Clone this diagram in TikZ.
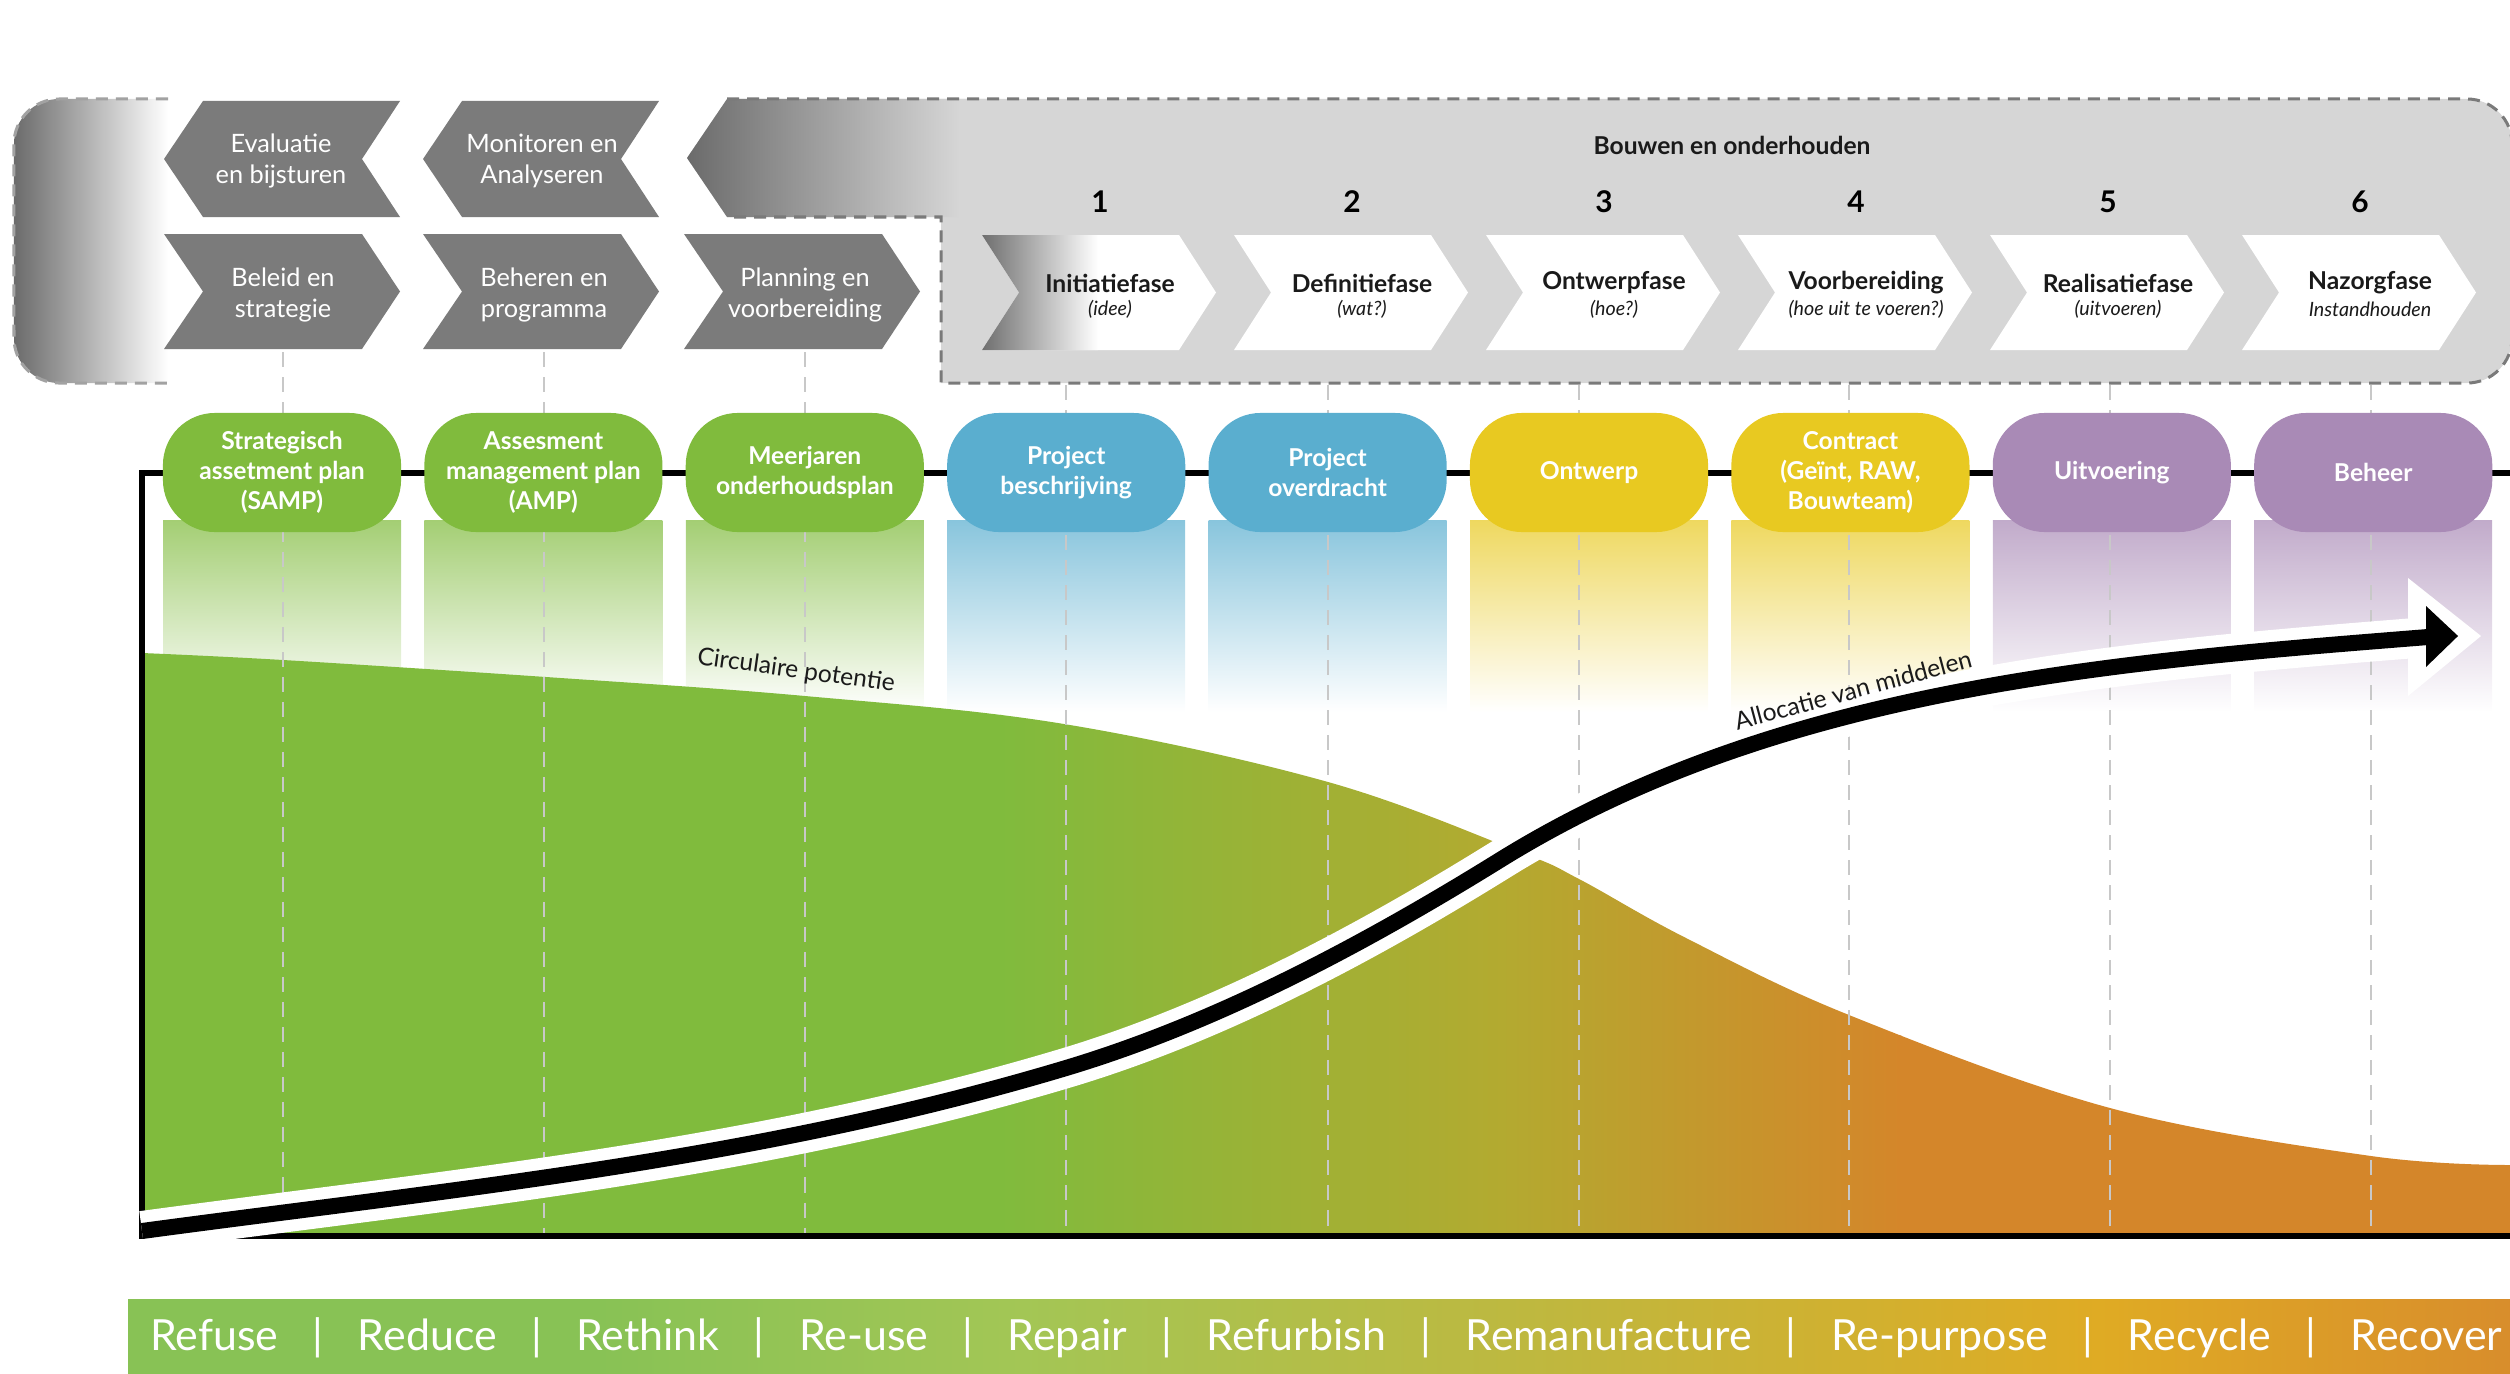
\documentclass[tikz,border=0pt]{standalone}
\usepackage{fontspec}
\setmainfont{Lato}
\usetikzlibrary{calc}
\definecolor{chevgrey}{HTML}{7B7B7B}
\definecolor{blockgrey}{HTML}{D6D6D6}
\definecolor{borderg}{HTML}{7A7A7A}
\definecolor{darkg}{HTML}{6B6B6B}
\definecolor{pgreen}{HTML}{80BB3D}
\definecolor{pblue}{HTML}{5AAECF}
\definecolor{pyellow}{HTML}{E8C921}
\definecolor{ppurple}{HTML}{A98AB6}
\definecolor{aolive}{HTML}{B3AA30}
\definecolor{aorange}{HTML}{D4862A}
\definecolor{dashg}{HTML}{C8C8C8}
\definecolor{txtdark}{HTML}{1A1A1A}
\definecolor{bgreen}{HTML}{88C255}
\definecolor{bgreen2}{HTML}{A3C655}
\definecolor{bolive}{HTML}{C2B63C}
\definecolor{bgold}{HTML}{DFAB24}
\definecolor{borange}{HTML}{D88D2C}
\newcommand\bandsep{\hspace{0.8em}|\hspace{0.8em}}
\begin{document}
\begin{tikzpicture}[x=0.01cm,y=-0.01cm,
  lab/.style={font=\fontsize{7.2}{8.6}\selectfont, text=white, align=center, inner sep=0},
  phase/.style={font=\bfseries\fontsize{7}{8.4}\selectfont, text=txtdark, inner sep=0},
  phsub/.style={font=\itshape\fontsize{5.6}{7}\selectfont, text=txtdark, inner sep=0},
  num/.style={font=\bfseries\fontsize{8.5}{10}\selectfont, text=black, inner sep=0},
  pill/.style={rounded corners=0.52cm, minimum width=2.38cm, minimum height=1.19cm,
     inner sep=0, font=\bfseries\fontsize{7}{8.6}\selectfont, text=white, align=center},
  guide/.style={draw=dashg, line width=0.025cm, dash pattern=on 0.15cm off 0.10cm},
  axis/.style={line width=0.06cm, draw=black},
  bdash/.style={draw=borderg, line width=0.03cm, dash pattern=on 0.12cm off 0.08cm},
  curvelab/.style={font=\fontsize{7}{8.4}\selectfont, text=txtdark, inner sep=0},
  bandtext/.style={font=\fontsize{12.2}{14}\selectfont, text=white, inner sep=0},
]
\useasboundingbox (0,0) rectangle (2510,1373);

% ---------- gradient columns under the pills
\foreach \k/\c in {0/pgreen,1/pgreen,2/pgreen,3/pblue,4/pblue,5/pyellow,6/pyellow,7/ppurple,8/ppurple}{
  \shade[top color=\c!72!white, bottom color=white] ({163+261.4*\k},520) rectangle ({163+261.4*\k+238},712);
}

% ---------- black top line
\draw[axis] (142,473) -- (2512,473);

% ---------- circulaire potentie area
\begin{scope}
\clip (142,1236) -- plot[smooth, tension=0.6] coordinates {(142,653) (283,660) (546,677) (805,696) (1064,724) (1328,782) (1520,852) (1579,879) (1686,938) (1849,1015) (2110,1108) (2371,1156) (2512,1165)} -- (2512,1236) -- cycle;
\fill[pgreen] (140,600) rectangle (1002,1240);
\shade[left color=pgreen, right color=aolive] (1000,600) rectangle (1502,1240);
\shade[left color=aolive, right color=aorange] (1500,600) rectangle (1902,1240);
\fill[aorange] (1900,600) rectangle (2515,1240);
\end{scope}

% ---------- axes
\draw[axis] (142,470) -- (142,1239);
\draw[axis] (142,1236) -- (2512,1236);

% ---------- dashed guides
\foreach \x in {283,544,805}{ \draw[guide] (\x,352) -- (\x,1233); }
\foreach \x in {1066,1328,1579,1849,2110,2371}{ \draw[guide] (\x,385) -- (\x,1233); }

% ---------- pills
\node[pill, fill=pgreen] (p1) at (282,472.5) {Strategisch\\assetment plan\\(SAMP)};
\node[pill, fill=pgreen] (p2) at (543.4,472.5) {Assesment\\management plan\\(AMP)};
\node[pill, fill=pgreen] (p3) at (804.8,472.5) {Meerjaren\\onderhoudsplan};
\node[pill, fill=pblue] (p4) at (1066.2,472.5) {Project\\beschrijving};
\node[pill, fill=pblue] (p5) at (1327.6,472.5) {Project\\overdracht};
\node[pill, fill=pyellow] (p6) at (1589,472.5) {Ontwerp};
\node[pill, fill=pyellow] (p7) at (1850.4,472.5) {Contract\\(Geïnt, RAW,\\Bouwteam)};
\node[pill, fill=ppurple] (p8) at (2111.8,472.5) {Uitvoering};
\node[pill, fill=ppurple] (p9) at (2373.2,472.5) {Beheer};

% ---------- allocatie arrow
\draw[white, line width=0.40cm] (142,1231) .. controls (450,1189.4) and (758,1160.4) .. (1066,1068) .. controls (1211,1024.5) and (1355,949.9) .. (1500,860) .. controls (1780,686.4) and (2119,661.7) .. (2428,637);
\fill[white] (2408,578) -- (2481,636) -- (2408,696) -- cycle;
\draw[black, line width=0.16cm] (142,1231) .. controls (450,1189.4) and (758,1160.4) .. (1066,1068) .. controls (1211,1024.5) and (1355,949.9) .. (1500,860) .. controls (1780,686.4) and (2119,661.7) .. (2428,637);
\fill[black] (2426,606) -- (2458,636) -- (2426,667) -- cycle;

\node[curvelab, rotate=-8] (circ) at (796,671) {Circulaire potentie};
\node[curvelab, rotate=15] (alloc) at (1853,690) {Allocatie van middelen};

% ---------- left fading block
\shade[left color=darkg, right color=white] (168,99) -- (59,99) arc[start angle=90, end angle=180, radius=0.45cm] -- (14,338) arc[start angle=180, end angle=270, radius=0.45cm] -- (168,383) -- cycle;
\draw[bdash, draw=borderg!70!white] (168,99) -- (59,99) arc[start angle=90, end angle=180, radius=0.45cm] -- (14,338) arc[start angle=180, end angle=270, radius=0.45cm] -- (168,383);

% ---------- big grey block (Bouwen en onderhouden)
\fill[blockgrey] (687,158) -- (727,99) -- (2467,99) arc[start angle=90, end angle=0, radius=0.45cm] -- (2512,338) arc[start angle=0, end angle=-90, radius=0.45cm] -- (941,383) -- (941,217) -- (727,217) -- cycle;
\begin{scope}
\clip (687,158) -- (727,99) -- (1000,99) -- (1000,217) -- (727,217) -- cycle;
\shade[left color=darkg, right color=blockgrey] (687,95) rectangle (960,220);
\fill[blockgrey] (959,95) rectangle (1002,220);
\end{scope}
\draw[bdash] (727,99) -- (2467,99) arc[start angle=90, end angle=0, radius=0.45cm] -- (2512,338) arc[start angle=0, end angle=-90, radius=0.45cm] -- (941,383) -- (941,217) -- (727,217);

\node[phase] (bouwen) at (1732,145) {Bouwen en onderhouden};

% ---------- grey chevrons (left)
\foreach \x in {164,423}{
  \fill[chevgrey] (\x+39,101) -- (\x+236,101) -- (\x+198,159) -- (\x+236,217) -- (\x+39,217) -- (\x,159) -- cycle;
}
\foreach \x in {164,423,684}{
  \fill[chevgrey] (\x,234) -- (\x+198,234) -- (\x+236,291.5) -- (\x+198,349) -- (\x,349) -- (\x+39,291.5) -- cycle;
}
\node[lab] (eval) at (281,161) {Evaluatie\\en bijsturen};
\node[lab] (moni) at (542,161) {Monitoren en\\Analyseren};
\node[lab] (bel) at (283,295) {Beleid en\\strategie};
\node[lab] (beh) at (544,295) {Beheren en\\programma};
\node[lab] (plan) at (805,295) {Planning en\\voorbereiding};

% ---------- white phase chevrons
\foreach \x in {982,1234,1486,1738,1990,2242}{
  \fill[white] (\x,235) -- (\x+197,235) -- (\x+234,292.5) -- (\x+197,350) -- (\x,350) -- (\x+37,292.5) -- cycle;
}
\begin{scope}
\clip (982,235) -- (1179,235) -- (1216,292.5) -- (1179,350) -- (982,350) -- (1019,292.5) -- cycle;
\shade[left color=chevgrey!90!black, right color=white] (982,230) rectangle (1098,355);
\end{scope}

\node[num] (n1) at (1100,202) {1};
\node[num] (n2) at (1352,202) {2};
\node[num] (n3) at (1604,202) {3};
\node[num] (n4) at (1856,202) {4};
\node[num] (n5) at (2108,202) {5};
\node[num] (n6) at (2360,202) {6};

\node[phase] (f1) at (1110,283) {Initiatiefase};
\node[phsub] (s1) at (1110,309) {(idee)};
\node[phase] (f2) at (1362,283) {Definitiefase};
\node[phsub] (s2) at (1362,309) {(wat?)};
\node[phase] (f3) at (1614,283) {Ontwerpfase};
\node[phsub] (s3) at (1614,309) {(hoe?)};
\node[phase] (f4) at (1866,283) {Voorbereiding};
\node[phsub] (s4) at (1866,309) {(hoe uit te voeren?)};
\node[phase] (f5) at (2118,283) {Realisatiefase};
\node[phsub] (s5) at (2118,309) {(uitvoeren)};
\node[phase] (f6) at (2370,283) {Nazorgfase};
\node[phsub] (s6) at (2370,309) {Instandhouden};

% ---------- bottom R-ladder band
\fill[bgreen] (128,1299) rectangle (600,1380);
\shade[left color=bgreen, right color=bgreen2] (598,1299) rectangle (1022,1380);
\shade[left color=bgreen2, right color=bolive] (1020,1299) rectangle (1600,1380);
\shade[left color=bolive, right color=bgold] (1598,1299) rectangle (2100,1380);
\shade[left color=bgold, right color=borange] (2098,1299) rectangle (2515,1380);
\node[bandtext] (band) at (1326,1338) {Refuse\bandsep Reduce\bandsep Rethink\bandsep Re-use\bandsep Repair\bandsep Refurbish\bandsep Remanufacture\bandsep Re-purpose\bandsep Recycle\bandsep Recover};
\end{tikzpicture}
\end{document}
